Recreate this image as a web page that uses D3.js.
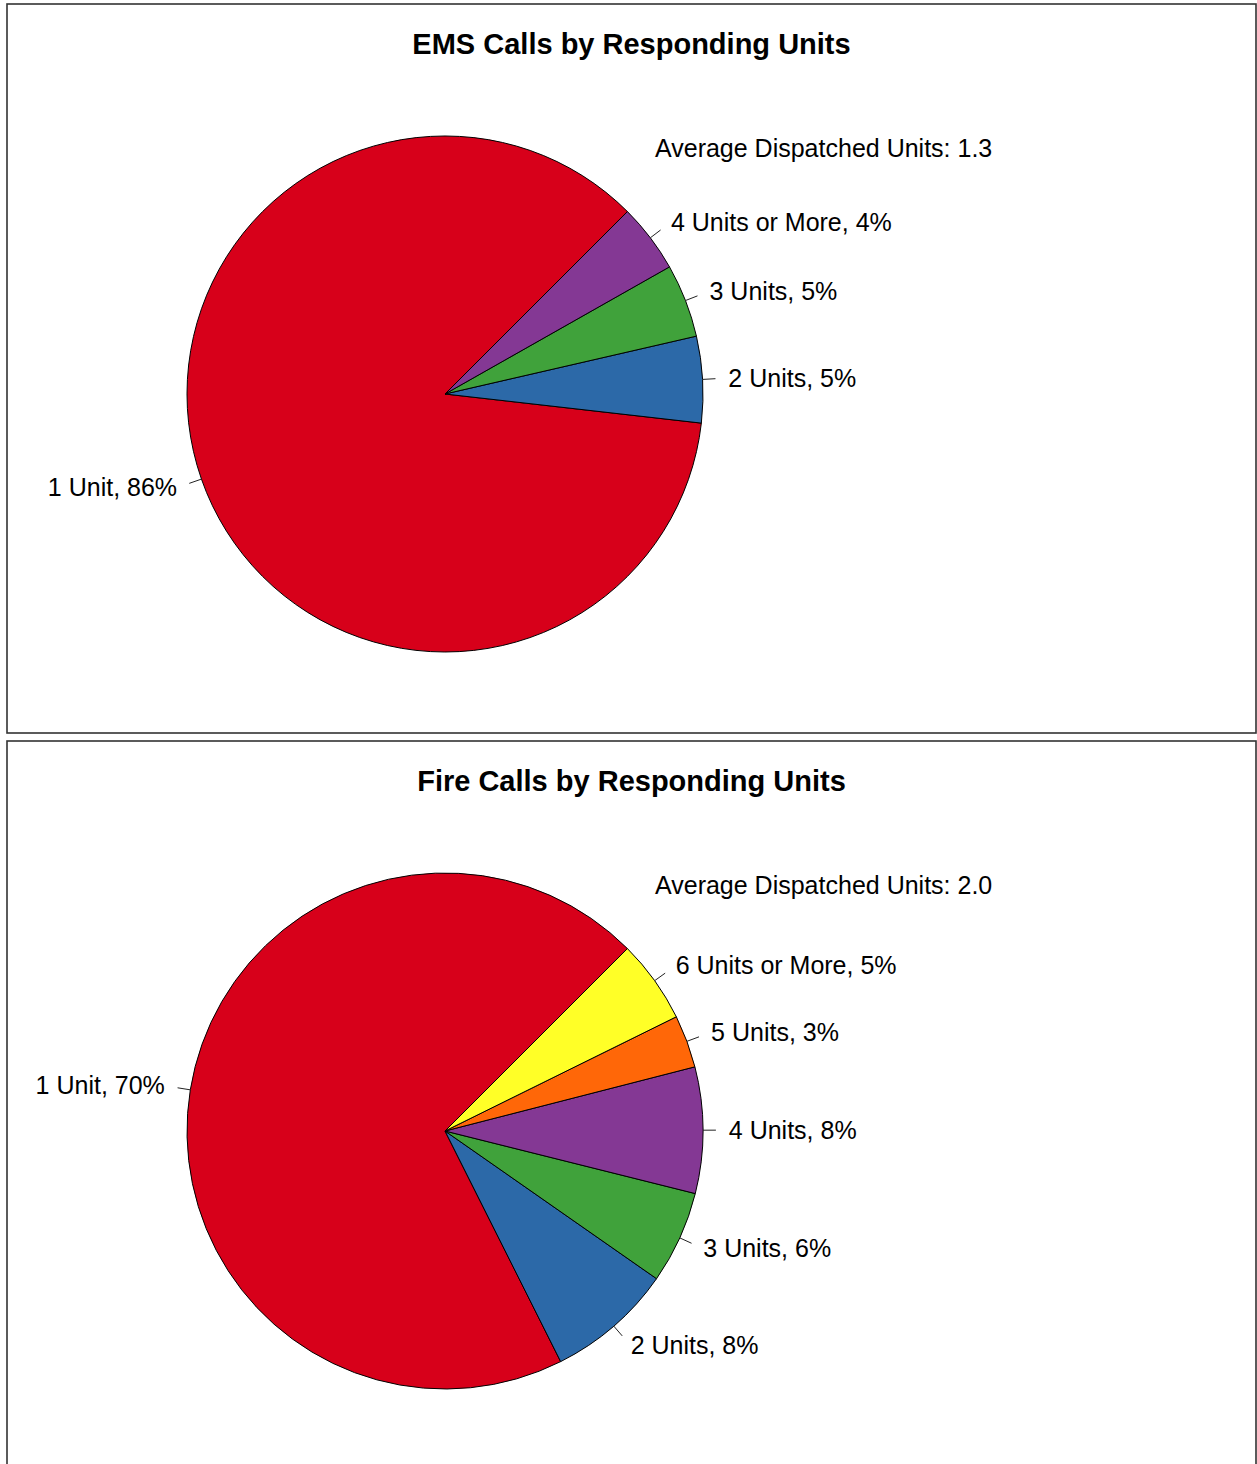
<!DOCTYPE html>
<html>
<head>
<meta charset="utf-8">
<script src="https://cdn.jsdelivr.net/npm/d3@7"></script>
<style>
  html, body { margin: 0; padding: 0; background: #fff; }
  svg { display: block; font-family: "Liberation Sans", Arial, Helvetica, sans-serif; }
</style>
</head>
<body>
<script>
// EMS calls: share of calls by number of responding units (%)
const emsCategories = ["1 Unit", "2 Units", "3 Units", "4 Units or More"];
const emsValues = [85.7, 5.4, 4.6, 4.3];
const emsTitle = "EMS Calls by Responding Units";
const emsAverage = "1.3";

// Fire calls: share of calls by number of responding units (%)
const fireCategories = ["1 Unit", "2 Units", "3 Units", "4 Units", "5 Units", "6 Units or More"];
const fireValues = [69.9, 7.9, 5.8, 7.9, 3.3, 5.2];
const fireTitle = "Fire Calls by Responding Units";
const fireAverage = "2.0";

// Slice fills, in category order
const sliceColors = ["#D7001A", "#2C69A8", "#40A23B", "#843894", "#FF6708", "#FFFF27"];

const W = 1257, H = 1464;
const svg = d3.select("body").append("svg")
  .attr("width", W).attr("height", H);

const panels = [
  { title: emsTitle, cats: emsCategories, vals: emsValues, avg: emsAverage, top: 4 },
  { title: fireTitle, cats: fireCategories, vals: fireValues, avg: fireAverage, top: 741 }
];

const panelW = 1249, panelH = 729;
const r = 258;

panels.forEach(p => {
  const g = svg.append("g").attr("transform", `translate(7,${p.top})`);

  g.append("rect")
    .attr("x", 0).attr("y", 0)
    .attr("width", panelW).attr("height", panelH)
    .attr("fill", "#fff")
    .attr("stroke", "#333").attr("stroke-width", 1.6);

  g.append("text")
    .attr("x", panelW / 2).attr("y", 40)
    .attr("text-anchor", "middle")
    .attr("dy", "0.35em")
    .attr("font-weight", "bold")
    .attr("font-size", 29)
    .attr("fill", "#000")
    .text(p.title);

  const cx = 438, cy = 390;
  const pieG = g.append("g").attr("transform", `translate(${cx},${cy})`);

  // slices run counter-clockwise starting at the 45° position
  const pie = d3.pie().sort(null)
    .startAngle(Math.PI / 4)
    .endAngle(Math.PI / 4 - 2 * Math.PI);
  const arcs = pie(p.vals);
  const arc = d3.arc().innerRadius(0).outerRadius(r);

  pieG.selectAll("path.slice").data(arcs).join("path")
    .attr("class", "slice")
    .attr("d", arc)
    .attr("fill", (d, i) => sliceColors[i])
    .attr("stroke", "#000").attr("stroke-width", 1);

  const total = d3.sum(p.vals);
  arcs.forEach((d, i) => {
    const a = (d.startAngle + d.endAngle) / 2;
    const sx = Math.sin(a), sy = -Math.cos(a);
    pieG.append("line")
      .attr("x1", sx * r).attr("y1", sy * r)
      .attr("x2", sx * r * 1.05).attr("y2", sy * r * 1.05)
      .attr("stroke", "#222").attr("stroke-width", 1);
    pieG.append("text")
      .attr("x", sx * r * 1.1).attr("y", sy * r * 1.1)
      .attr("dy", "0.35em")
      .attr("text-anchor", sx >= 0 ? "start" : "end")
      .attr("font-size", 25)
      .attr("fill", "#000")
      .text(`${p.cats[i]}, ${Math.round(d.data / total * 100)}%`);
  });

  g.append("text")
    .attr("x", 648).attr("y", 144)
    .attr("dy", "0.35em")
    .attr("font-size", 25)
    .attr("fill", "#000")
    .text(`Average Dispatched Units: ${p.avg}`);
});
</script>
</body>
</html>
